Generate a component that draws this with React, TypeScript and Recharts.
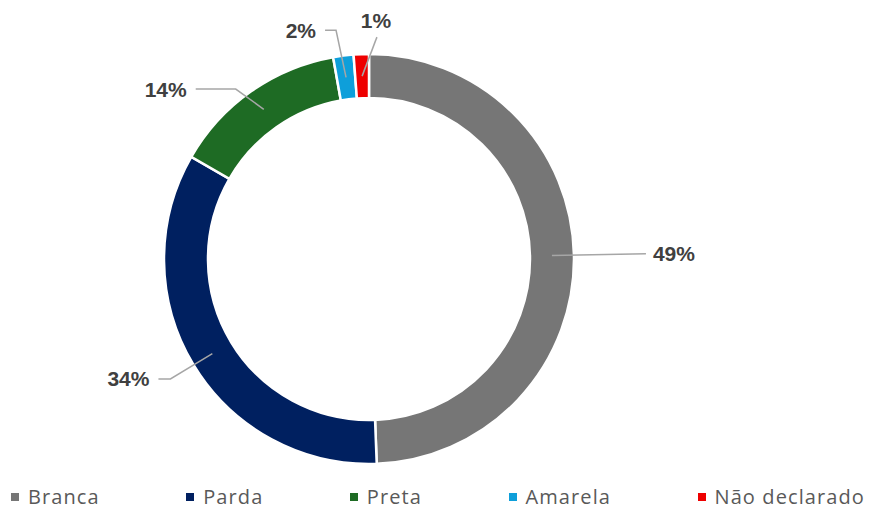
import { PieChart, Pie, Cell } from "recharts";

const categories = ["Branca", "Parda", "Preta", "Amarela", "Não declarado"];
const shares = [49.4, 33.9, 13.9, 1.6, 1.2];
const colors = ["#767676", "#002060", "#1E6B24", "#0E9FDA", "#EE0000"];

// leader line layout per slice: elbow radius, angle shift (deg, clockwise), horizontal run
const labelLayout = [
  { elbowR: 277, shift: 0, run: 0, side: 1, above: false },
  { elbowR: 232, shift: 0, run: 12, side: -1, above: false },
  { elbowR: 216, shift: -3, run: 40, side: -1, above: false },
  { elbowR: 231, shift: -1, run: 11, side: -1, above: false },
  { elbowR: 222, shift: 4.2, run: 0, side: 0, above: true },
];

const data = categories.map((name, i) => ({ name, value: shares[i] }));

const RADIAN = Math.PI / 180;

// eslint-disable-next-line @typescript-eslint/no-explicit-any
const renderLabel = (props: any) => {
  const { cx, cy, midAngle, innerRadius, outerRadius, percent, index } = props;
  const layout = labelLayout[index];
  const midR = (innerRadius + outerRadius) / 2;
  const sx = cx + midR * Math.cos(-midAngle * RADIAN);
  const sy = cy + midR * Math.sin(-midAngle * RADIAN);
  const a = midAngle - layout.shift;
  const ex = cx + layout.elbowR * Math.cos(-a * RADIAN);
  const ey = cy + layout.elbowR * Math.sin(-a * RADIAN);
  const hx = ex + layout.side * layout.run;
  const text = `${Math.round(percent * 100)}%`;
  let tx = hx + 7;
  let ty = ey;
  let anchor: "start" | "end" | "middle" = "start";
  if (layout.side < 0) {
    tx = hx - 9;
    anchor = "end";
  }
  if (layout.above) {
    tx = ex - 1;
    ty = ey - 17;
    anchor = "middle";
  }
  return (
    <g>
      <polyline
        points={`${sx},${sy} ${ex},${ey} ${hx},${ey}`}
        fill="none"
        stroke="#A6A6A6"
        strokeWidth={1.5}
      />
      <text
        x={tx}
        y={ty}
        textAnchor={anchor}
        dominantBaseline="central"
        fill="#404040"
        fontSize={21}
        fontWeight={700}
        fontFamily="'Liberation Sans', Arial, sans-serif"
      >
        {text}
      </text>
    </g>
  );
};

export default function App() {
  return (
    <div
      style={{
        position: "absolute",
        left: 0,
        top: 0,
        width: 871,
        height: 509,
        background: "#fff",
      }}
    >
      <PieChart width={871} height={509} margin={{ top: 0, right: 0, bottom: 0, left: 0 }}>
        <Pie
          data={data}
          dataKey="value"
          nameKey="name"
          cx={369}
          cy={259}
          innerRadius={161}
          outerRadius={205}
          startAngle={90}
          endAngle={-270}
          stroke="#fff"
          strokeWidth={2.5}
          label={renderLabel}
          labelLine={false}
          isAnimationActive={false}
        >
          {data.map((d, i) => (
            <Cell key={d.name} fill={colors[i]} />
          ))}
        </Pie>
      </PieChart>
      <div
        style={{
          position: "absolute",
          left: 11,
          right: 6,
          top: 487,
          display: "flex",
          justifyContent: "space-between",
          alignItems: "center",
          fontFamily: "'Open Sans', sans-serif",
          fontSize: 20,
          lineHeight: "20px",
          letterSpacing: 1.1,
          color: "#595959",
        }}
      >
        {categories.map((c, i) => (
          <div key={c} style={{ display: "flex", alignItems: "center" }}>
            <span
              style={{
                width: 8,
                height: 8,
                background: colors[i],
                marginRight: 9,
                display: "inline-block",
              }}
            />
            <span>{c}</span>
          </div>
        ))}
      </div>
    </div>
  );
}
